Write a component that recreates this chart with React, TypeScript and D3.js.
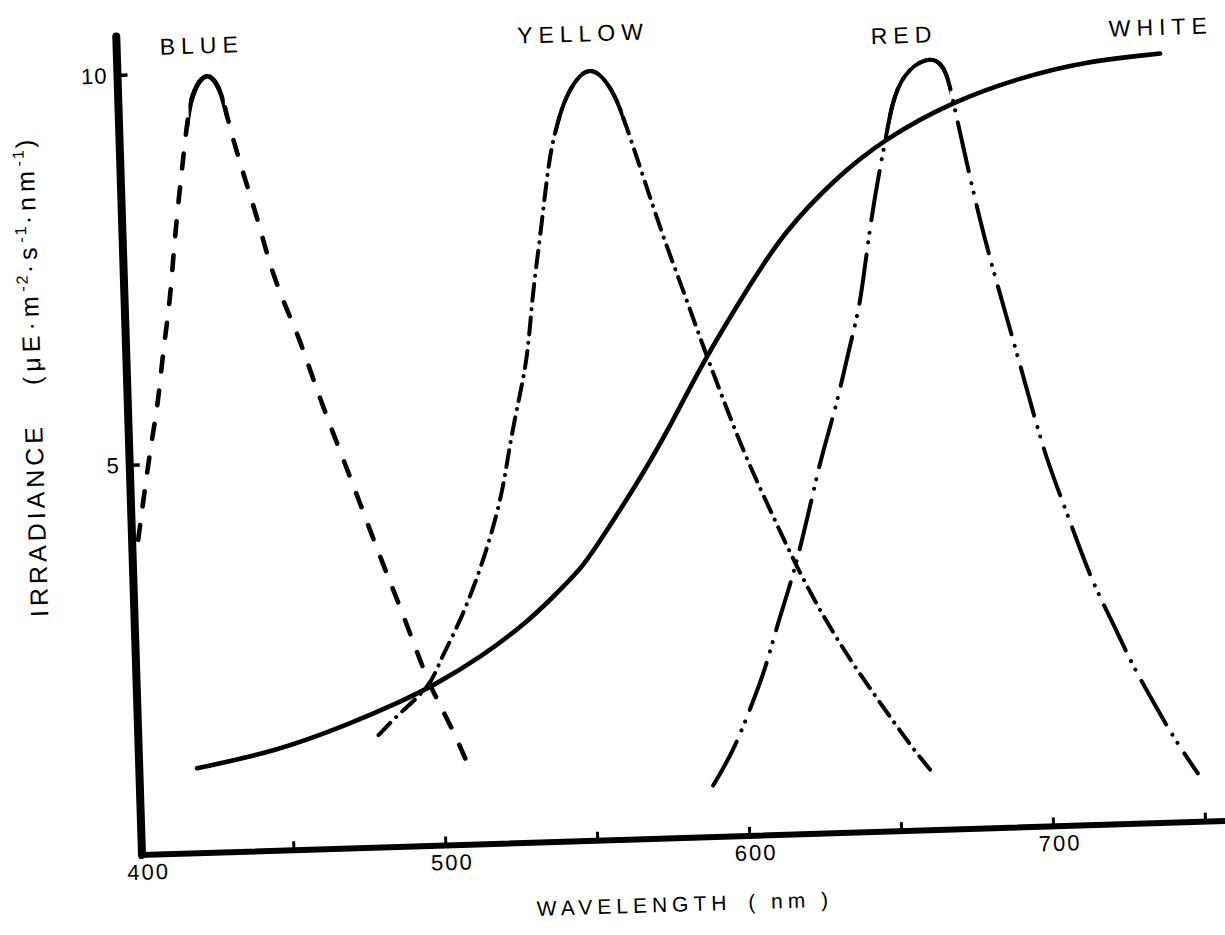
import React from "react";
import * as d3 from "d3";

// values (wavelength in nm, irradiance in µE·m-2·s-1·nm-1)
const blueNm = [402, 407, 410, 412, 415, 417, 420, 422, 424, 429.5, 434, 436, 439, 441.5, 445, 448, 452, 457, 461, 466, 473, 481, 486.5, 493.5, 496.5, 503, 509.5];
const blueIrr = [4.04, 5.23, 5.78, 6.42, 7.09, 7.86, 8.71, 9.26, 9.74, 10.05, 9.77, 9.34, 8.89, 8.53, 8.04, 7.53, 7.05, 6.57, 6.05, 5.46, 4.69, 3.76, 3.18, 2.38, 2.04, 1.53, 0.89];

const yellowNm = [479, 486, 496.5, 500, 503.5, 510, 517.5, 522.5, 525, 528, 532, 534, 537.5, 541, 544, 547.5, 555.5, 563, 566, 574, 578.5, 583.5, 588, 595, 602.5, 611.5, 618, 625.5, 635, 644.5, 654, 661.5];
const yellowIrr = [1.44, 1.71, 2.04, 2.37, 2.61, 3.11, 3.87, 4.54, 5.08, 5.59, 6.22, 6.99, 7.8, 8.77, 9.2, 9.6, 10.0, 9.6, 9.25, 8.2, 7.62, 7.05, 6.5, 5.69, 4.86, 4.04, 3.45, 2.85, 2.2, 1.64, 1.08, 0.7];

const redNm = [588.5, 595.5, 601.5, 607, 611.5, 618, 625.5, 628, 633.5, 638, 642, 645, 649, 652, 654, 658, 666.5, 671.5, 673.5, 674.5, 676.5, 682, 687, 694, 700.5, 705, 710, 715.5, 722.5, 727, 734, 740.5, 748];
const redIrr = [0.66, 1.09, 1.63, 2.14, 2.73, 3.42, 4.54, 4.89, 5.55, 6.25, 6.78, 7.58, 8.38, 8.89, 9.28, 9.7, 9.92, 9.82, 9.55, 9.33, 8.91, 7.79, 6.98, 5.9, 4.83, 4.31, 3.73, 3.09, 2.51, 2.08, 1.56, 1.08, 0.62];

const whiteNm = [419, 445, 470, 486.5, 497, 514, 529, 537, 547, 551.5, 566.5, 578, 588.5, 606, 617.5, 634.5, 652, 674.5, 696, 718, 743];
const whiteIrr = [1.09, 1.27, 1.6, 1.86, 2.04, 2.41, 2.83, 3.11, 3.48, 3.71, 4.55, 5.27, 6.03, 7.08, 7.72, 8.38, 8.89, 9.33, 9.6, 9.79, 9.86];

const xTicks = [450, 500, 550, 600, 650, 700, 750];
const xTickLabels = [400, 500, 600, 700];
const yTicks = [5, 10];

const series = [
  { name: "BLUE", nm: blueNm, irr: blueIrr, dash: "15 19", width: 4.6, top: [423, 435], label: [428, 10.35] },
  { name: "YELLOW", nm: yellowNm, irr: yellowIrr, dash: "17 8.3 0.1 8.3", width: 4, top: [544, 566], label: [553.5, 10.35] },
  { name: "RED", nm: redNm, irr: redIrr, dash: "50 12 0.1 9.5 0.1 12.5", width: 4, top: [653, 673.5], label: [659, 10.2] },
  { name: "WHITE", nm: whiteNm, irr: whiteIrr, dash: null, width: 4.6, top: null, label: [743.5, 10.2] },
];

const W = 1225;
const H = 935;
const originX = 142;
const originY = 855;
const tilt = -1.8; // the scan is slightly rotated

const font = "'Liberation Sans', Arial, sans-serif";

export default function App() {
  const x = d3.scaleLinear().domain([400, 760]).range([0, 360 * 3.04]);
  const y = d3.scaleLinear().domain([0, 10]).range([0, -780]);

  const makeLine = (nm: number[], irr: number[]) =>
    d3
      .line<number>()
      .x((_, i) => x(nm[i]))
      .y((d) => y(d))
      .curve(d3.curveBasis)(irr) || "";

  return (
    <svg
      width={W}
      height={H}
      style={{ position: "absolute", left: 0, top: 0, background: "#fff" }}
      fontFamily={font}
    >
      <defs>
        {series
          .filter((s) => s.top)
          .map((s) => (
            <clipPath id={`top-${s.name}`} key={s.name}>
              <rect
                x={x(s.top![0])}
                y={y(11)}
                width={x(s.top![1]) - x(s.top![0])}
                height={y(8) - y(11)}
              />
            </clipPath>
          ))}
      </defs>
      <g transform={`translate(${originX},${originY}) rotate(${tilt})`}>
        {/* axes */}
        <line x1={x(400)} x2={x(400)} y1={y(0)} y2={y(10.5)} stroke="#000" strokeWidth={8} strokeLinecap="round" />
        <line x1={x(400)} x2={x(760)} y1={y(0)} y2={y(0)} stroke="#000" strokeWidth={6} strokeLinecap="square" />

        {xTicks.map((t) => (
          <line key={t} x1={x(t)} x2={x(t)} y1={y(0)} y2={y(0) - 9} stroke="#000" strokeWidth={3} />
        ))}
        {yTicks.map((t) => (
          <line key={t} x1={x(400)} x2={x(400) + 10} y1={y(t)} y2={y(t)} stroke="#000" strokeWidth={3.5} />
        ))}

        {xTickLabels.map((t) => (
          <text key={t} x={x(t) + 6} y={y(0) + 17} dy="0.35em" textAnchor="middle" fontSize={22} letterSpacing={2}>
            {t}
          </text>
        ))}
        {yTicks.map((t) => (
          <text key={t} x={x(400) - 10} y={y(t)} dy="0.35em" textAnchor="end" fontSize={22} letterSpacing={1}>
            {t}
          </text>
        ))}

        <text x={x(578)} y={y(0) + 66} dy="0.35em" textAnchor="middle" fontSize={21} letterSpacing={5}>
          WAVELENGTH <tspan dx={6}>( nm )</tspan>
        </text>

        <text
          transform={`translate(${x(400) - 95},${y(3.09)}) rotate(-90)`}
          textAnchor="start"
          dy="0.35em"
          fontSize={25}
          letterSpacing={4}
        >
          IRRADIANCE
          <tspan dx={38} letterSpacing={5}>(μE·m</tspan>
          <tspan dy={-10} fontSize={16} letterSpacing={2}>-2</tspan>
          <tspan dy={10} letterSpacing={5}>·s</tspan>
          <tspan dy={-10} fontSize={16} letterSpacing={2}>-1</tspan>
          <tspan dy={10} letterSpacing={5}>·nm</tspan>
          <tspan dy={-10} fontSize={16} letterSpacing={2}>-1</tspan>
          <tspan dy={10}>)</tspan>
        </text>

        {/* curves */}
        {series.map((s) => {
          const d = makeLine(s.nm, s.irr);
          return (
            <g key={s.name}>
              <path
                d={d}
                fill="none"
                stroke="#000"
                strokeWidth={s.width}
                strokeDasharray={s.dash || undefined}
                strokeLinecap="round"
                strokeLinejoin="round"
              />
              {s.top && (
                <path
                  d={d}
                  fill="none"
                  stroke="#000"
                  strokeWidth={s.width}
                  strokeLinecap="round"
                  clipPath={`url(#top-${s.name})`}
                />
              )}
              <text
                x={x(s.label[0])}
                y={y(s.label[1])}
                dy="0.35em"
                textAnchor="middle"
                fontSize={23}
                letterSpacing={6}
              >
                {s.name}
              </text>
            </g>
          );
        })}
      </g>
    </svg>
  );
}
